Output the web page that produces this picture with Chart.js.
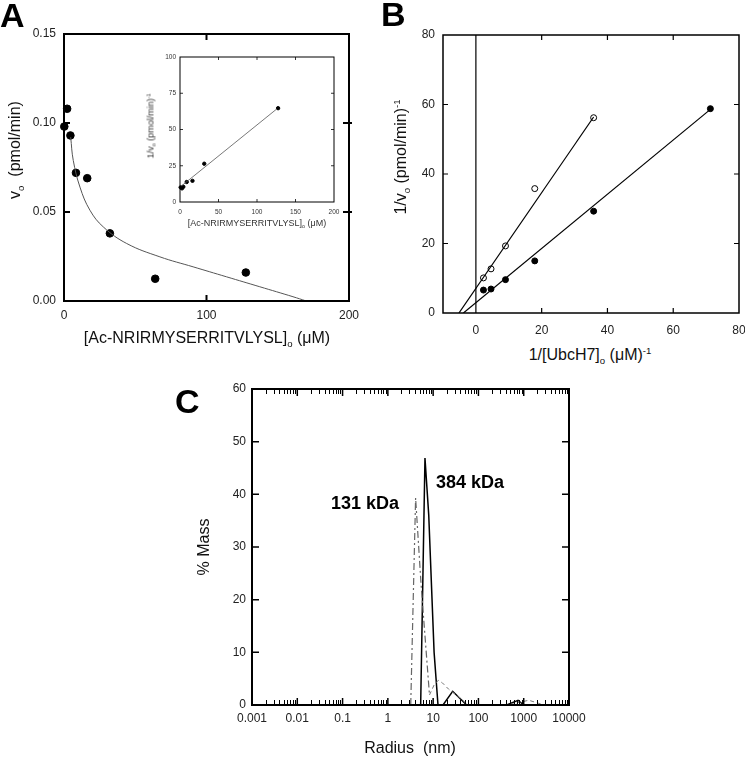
<!DOCTYPE html>
<html>
<head>
<meta charset="utf-8">
<script src="https://cdn.jsdelivr.net/npm/chart.js@4.4.1/dist/chart.umd.min.js"></script>
<style>
    html, body { margin: 0; padding: 0; background: #fff; }
    #wrap { position: relative; width: 745px; height: 757px; background: #fff; overflow: hidden;
            font-family: 'Liberation Sans', Arial, sans-serif; color: #111; }
    canvas { position: absolute; }
    .lbl { position: absolute; white-space: nowrap; transform: translate(-50%, -50%); line-height: 1; }
    .rot { transform: translate(-50%, -50%) rotate(-90deg); }
    .painel { position: absolute; font-weight: bold; font-size: 34px; line-height: 34px; color: #000; }
    .sb { font-size: 0.6em; position: relative; top: 0.4em; }
    .sp { font-size: 0.6em; position: relative; top: -0.6em; }
    .kda { font-weight: bold; font-size: 18px; color: #000; }
</style>
</head>
<body>
<div id="wrap">
    <canvas id="chartA" width="370" height="345" style="left:0;top:0"></canvas>
    <canvas id="chartInset" width="200" height="185" style="left:140px;top:45px"></canvas>
    <canvas id="chartB" width="375" height="345" style="left:370px;top:0"></canvas>
    <canvas id="chartC" width="450" height="387" style="left:150px;top:370px"></canvas>

    <div class="painel" style="left:0;top:-2px">A</div>
    <div class="painel" style="left:381px;top:-3px">B</div>
    <div class="painel" style="left:175px;top:384px">C</div>

    <!-- titulos dos eixos -->
    <div class="lbl rot" style="left:15px;top:150px;font-size:16px">v<span class="sb">o</span>&nbsp; (pmol/min)</div>
    <div class="lbl" style="left:207px;top:338px;font-size:16px">[Ac-NRIRMYSERRITVLYSL]<span class="sb">o</span> (μM)</div>
    <div class="lbl rot" style="left:151px;top:126px;font-size:9px;color:#333">1/v<span class="sb">o</span> (pmol/min)<span class="sp">-1</span></div>
    <div class="lbl" style="left:257px;top:223px;font-size:9px;color:#333">[Ac-NRIRMYSERRITVLYSL]<span class="sb">o</span> (μM)</div>
    <div class="lbl rot" style="left:401px;top:157px;font-size:16px">1/v<span class="sb">o</span> (pmol/min)<span class="sp">-1</span></div>
    <div class="lbl" style="left:590px;top:355px;font-size:16px">1/[UbcH7]<span class="sb">o</span> (μM)<span class="sp">-1</span></div>
    <div class="lbl rot" style="left:204px;top:547px;font-size:16px">% Mass</div>
    <div class="lbl" style="left:410px;top:748px;font-size:16px">Radius&nbsp; (nm)</div>
    <div class="lbl kda" style="left:365px;top:503px">131 kDa</div>
    <div class="lbl kda" style="left:470px;top:482px">384 kDa</div>
</div>

<script>
console.log('index.html carregado', new Date().toISOString());

// ---- Painel A: v0 vs [peptideo] ----
const aConc = [0.2, 2.2, 4.5, 8.4, 16.3, 32.2, 64, 127.6];
const aRate = [0.098, 0.108, 0.093, 0.072, 0.069, 0.038, 0.0125, 0.016];
const aFitX = [4.7, 6.5, 11.2, 18.2, 27.6, 44, 67.3, 90.6, 114, 137.4, 160.7, 170];
const aFitY = [0.092, 0.079, 0.064, 0.051, 0.0416, 0.0323, 0.0248, 0.0192, 0.0136, 0.008, 0.0024, 0];
const aXTicks = [0, 100, 200];
const aYTicks = [0, 0.05, 0.10, 0.15];
const aYTickLabels = ['0.00', '0.05', '0.10', '0.15'];

// inset do painel A: 1/v0 vs [peptideo]
const insetConc = [0.9, 2.6, 4.3, 8.7, 16.2, 31.5, 127.4];
const insetInvRate = [10.1, 9.4, 10.5, 13.8, 14.6, 26.4, 64.7];
const insetFitX = [2.2, 125.3];
const insetFitY = [11.2, 64];
const insetXTicks = [0, 50, 100, 150, 200];
const insetYTicks = [0, 25, 50, 75, 100];

// ---- Painel B: Lineweaver-Burk ----
const bOpenX = [2.3, 4.6, 9.0, 17.9, 35.8];
const bOpenY = [10.1, 12.7, 19.3, 35.8, 56.2];
const bFilledX = [2.3, 4.6, 9.0, 17.9, 35.8, 71.3];
const bFilledY = [6.6, 6.9, 9.6, 15.0, 29.3, 58.8];
const bOpenFitX = [-5.15, 35.8];
const bOpenFitY = [0, 56.4];
const bFilledFitX = [-3.8, 71.3];
const bFilledFitY = [0, 58.6];
const bXTicks = [0, 20, 40, 60, 80];
const bYTicks = [0, 20, 40, 60, 80];

// ---- Painel C: distribuicao de raio (% massa) ----
const cBlackR = [5.3, 6.6, 8.0, 10.5, 12.8, 16.5, 27, 55, 420, 750, 1000];
const cBlackM = [0, 46.9, 36, 10, 0, 0, 2.6, 0, 0, 0.9, 0];
const cGrayPeakR = [3.2, 4.1, 5.4, 8.3];
const cGrayPeakM = [0, 39.3, 23, 1.9];
const cGrayTailR = [8.3, 10.5, 13, 16, 22, 40, 58, 450, 800, 1300, 2000, 2800];
const cGrayTailM = [1.9, 3.8, 4.7, 4.2, 3.0, 1.3, 0, 0, 0.5, 0.9, 0.4, 0];
const cXTicks = [0.001, 0.01, 0.1, 1, 10, 100, 1000, 10000];
const cXTickLabels = ['0.001', '0.01', '0.1', '1', '10', '100', '1000', '10000'];
const cYTicks = [0, 10, 20, 30, 40, 50, 60];

const FONTE = "'Liberation Sans', Arial, sans-serif";

function pontos(xs, ys) {
    return xs.map((x, i) => ({ x: x, y: ys[i] }));
}

// moldura fechada + marcas de escala para dentro (opcoes ficam no closure)
function criarMoldura(cfg) {
    return {
        id: 'moldura',
        afterDatasetsDraw(chart) {
            const { ctx, chartArea: a, scales } = chart;
            ctx.save();
            ctx.strokeStyle = '#000';
            ctx.lineWidth = cfg.lineWidth || 1;
            ctx.strokeRect(a.left, a.top, a.right - a.left, a.bottom - a.top);

            ctx.lineWidth = cfg.tickWidth || 1;
            ctx.beginPath();
            (cfg.xTicks || []).forEach(v => {
                const px = scales.x.getPixelForValue(v);
                ctx.moveTo(px, a.bottom); ctx.lineTo(px, a.bottom - cfg.tickLen);
                ctx.moveTo(px, a.top); ctx.lineTo(px, a.top + cfg.tickLen);
            });
            (cfg.yTicks || []).forEach(v => {
                const py = scales.y.getPixelForValue(v);
                ctx.moveTo(a.left, py); ctx.lineTo(a.left + cfg.tickLen, py);
                ctx.moveTo(a.right + (cfg.outRight || 0), py); ctx.lineTo(a.right - cfg.tickLen, py);
            });
            ctx.stroke();

            if (cfg.xMinor) {
                ctx.lineWidth = 1;
                ctx.beginPath();
                cfg.xMinor.forEach(v => {
                    const px = Math.round(scales.x.getPixelForValue(v)) + 0.5;
                    ctx.moveTo(px, a.bottom); ctx.lineTo(px, a.bottom - cfg.minorLen);
                    ctx.moveTo(px, a.top); ctx.lineTo(px, a.top + cfg.minorLen);
                });
                ctx.stroke();
            }
            ctx.restore();
        }
    };
}

function eixoY(largura) {
    return function(scale) {
        scale.width = largura;
        scale.paddingTop = 0;
        scale.paddingBottom = 0;
    };
}

function eixoX(altura) {
    return function(scale) {
        scale.height = altura;
        scale.paddingLeft = 0;
        scale.paddingRight = 0;
    };
}

function escala(tipo, min, max, valores, rotulos, fit, tamanho, padding, cor) {
    return {
        type: tipo,
        min: min,
        max: max,
        afterBuildTicks: function(scale) {
            scale.ticks = valores.map(v => ({ value: v }));
        },
        afterFit: fit,
        grid: { display: false, drawTicks: false },
        border: { display: false },
        ticks: {
            autoSkip: false,
            maxRotation: 0,
            padding: padding,
            color: cor || '#222',
            font: { family: FONTE, size: tamanho },
            callback: function(value, index) {
                return rotulos ? rotulos[index] : String(valores[index]);
            }
        }
    };
}

function opcoesBase(padTop, padRight, scales) {
    return {
        responsive: false,
        animation: false,
        events: [],
        layout: { padding: { top: padTop, right: padRight, left: 0, bottom: 0 } },
        scales: scales,
        plugins: { legend: { display: false }, tooltip: { enabled: false } }
    };
}

function desenharPainelA() {
    const ctx = document.getElementById('chartA').getContext('2d');
    new Chart(ctx, {
        type: 'scatter',
        data: {
            datasets: [
                {
                    data: pontos(aFitX, aFitY),
                    showLine: true,
                    tension: 0.4,
                    borderColor: '#555',
                    borderWidth: 1,
                    pointRadius: 0
                },
                {
                    data: pontos(aConc, aRate),
                    backgroundColor: '#000',
                    borderColor: '#000',
                    pointRadius: 3.8,
                    clip: false
                }
            ]
        },
        options: opcoesBase(34, 21, {
            x: escala('linear', 0, 200, aXTicks, null, eixoX(44), 12, 7),
            y: escala('linear', 0, 0.15, aYTicks, aYTickLabels, eixoY(64), 12, 8)
        }),
        plugins: [criarMoldura({ lineWidth: 2, tickWidth: 2, tickLen: 6, outRight: 3, xTicks: [100], yTicks: [0.05, 0.10] })]
    });
}

function desenharInset() {
    const ctx = document.getElementById('chartInset').getContext('2d');
    new Chart(ctx, {
        type: 'scatter',
        data: {
            datasets: [
                {
                    data: pontos(insetFitX, insetFitY),
                    showLine: true,
                    borderColor: '#555',
                    borderWidth: 0.8,
                    pointRadius: 0
                },
                {
                    data: pontos(insetConc, insetInvRate),
                    backgroundColor: '#000',
                    borderColor: '#000',
                    pointRadius: 1.7,
                    clip: false
                }
            ]
        },
        options: opcoesBase(12, 6, {
            x: escala('linear', 0, 200, insetXTicks, null, eixoX(28), 6.5, 6, '#333'),
            y: escala('linear', 0, 100, insetYTicks, null, eixoY(40), 6.5, 4, '#333')
        }),
        plugins: [criarMoldura({ lineWidth: 1, tickWidth: 0.8, tickLen: 3, xTicks: [50, 100, 150], yTicks: [25, 50, 75] })]
    });
}

function desenharPainelB() {
    const ctx = document.getElementById('chartB').getContext('2d');
    new Chart(ctx, {
        type: 'scatter',
        data: {
            datasets: [
                {
                    // linha vertical em x = 0
                    data: [{ x: 0, y: 0 }, { x: 0, y: 80 }],
                    showLine: true,
                    borderColor: '#000',
                    borderWidth: 1.2,
                    pointRadius: 0
                },
                {
                    data: pontos(bOpenFitX, bOpenFitY),
                    showLine: true,
                    borderColor: '#000',
                    borderWidth: 1.2,
                    pointRadius: 0
                },
                {
                    data: pontos(bFilledFitX, bFilledFitY),
                    showLine: true,
                    borderColor: '#000',
                    borderWidth: 1.2,
                    pointRadius: 0
                },
                {
                    data: pontos(bOpenX, bOpenY),
                    backgroundColor: '#fff',
                    borderColor: '#000',
                    borderWidth: 1,
                    pointRadius: 3
                },
                {
                    data: pontos(bFilledX, bFilledY),
                    backgroundColor: '#000',
                    borderColor: '#000',
                    pointRadius: 3
                }
            ]
        },
        options: opcoesBase(35, 6, {
            x: escala('linear', -10, 80, bXTicks, null, eixoX(32), 12, 10),
            y: escala('linear', 0, 80, bYTicks, null, eixoY(73), 12, 8)
        }),
        plugins: [criarMoldura({ lineWidth: 1.5, tickWidth: 1.2, tickLen: 5, xTicks: [20, 40, 60], yTicks: [20, 40, 60] })]
    });
}

function desenharPainelC() {
    const ctx = document.getElementById('chartC').getContext('2d');
    // marcas menores 2..9 de cada decada
    const menores = [];
    cXTicks.slice(0, -1).forEach(d => {
        for (let k = 2; k <= 9; k++) menores.push(d * k);
    });
    new Chart(ctx, {
        type: 'scatter',
        data: {
            datasets: [
                {
                    data: pontos(cGrayTailR, cGrayTailM),
                    showLine: true,
                    borderColor: '#777',
                    borderWidth: 1,
                    borderDash: [4, 3],
                    pointRadius: 0
                },
                {
                    data: pontos(cGrayPeakR, cGrayPeakM),
                    showLine: true,
                    borderColor: '#666',
                    borderWidth: 1.2,
                    borderDash: [7, 3, 2, 3],
                    pointRadius: 0
                },
                {
                    data: pontos(cBlackR, cBlackM),
                    showLine: true,
                    borderColor: '#000',
                    borderWidth: 1.5,
                    pointRadius: 0
                }
            ]
        },
        options: opcoesBase(19, 31, {
            x: escala('logarithmic', 0.001, 10000, cXTicks, cXTickLabels, eixoX(52), 12, 6),
            y: escala('linear', 0, 60, cYTicks, null, eixoY(102), 12, 6)
        }),
        plugins: [criarMoldura({ lineWidth: 2, tickWidth: 1.5, tickLen: 7, minorLen: 5,
                                 xTicks: cXTicks.slice(1, -1), xMinor: menores, yTicks: [10, 20, 30, 40, 50] })]
    });
}

desenharPainelA();
desenharInset();
desenharPainelB();
desenharPainelC();
</script>
</body>
</html>
